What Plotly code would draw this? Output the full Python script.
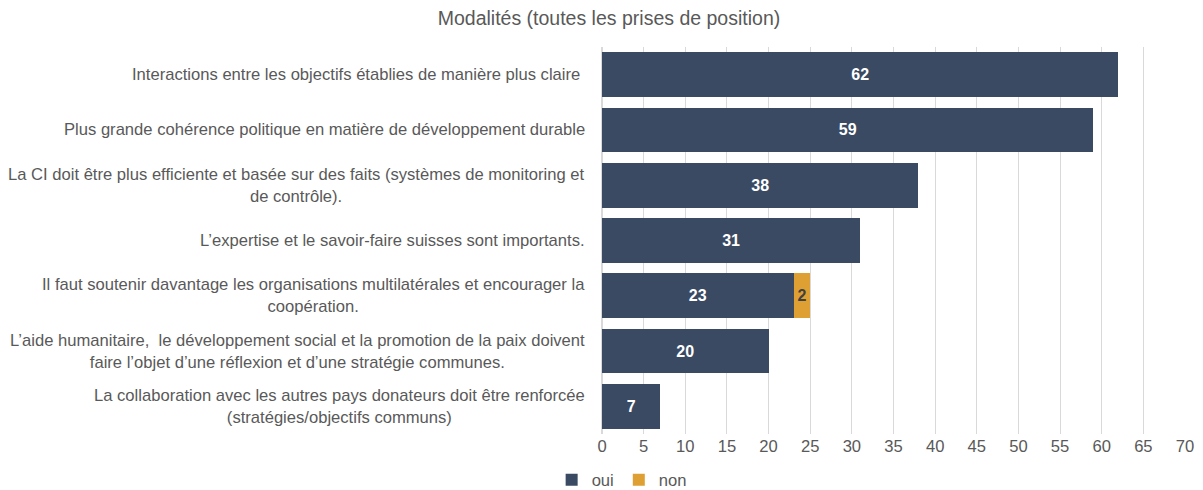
import plotly.graph_objects as go

categories = [
    "Interactions entre les objectifs établies de manière plus claire ",
    "Plus grande cohérence politique en matière de développement durable",
    "La CI doit être plus efficiente et basée sur des faits (systèmes de monitoring et<br>de contrôle).",
    "L’expertise et le savoir-faire suisses sont importants.",
    "Il faut soutenir davantage les organisations multilatérales et encourager la<br>coopération.",
    "L’aide humanitaire,  le développement social et la promotion de la paix doivent<br>faire l’objet d’une réflexion et d’une stratégie communes.",
    "La collaboration avec les autres pays donateurs doit être renforcée<br>(stratégies/objectifs communs)",
]
cat_ids = [f"c{i}" for i in range(len(categories))]
oui = [62, 59, 38, 31, 23, 20, 7]
non = [None, None, None, None, 2, None, None]
x_ticks = list(range(0, 75, 5))

C_OUI = "#3A4A63"
C_NON = "#DEA033"
GREY = "#595959"
FONT = "Liberation Sans, Arial, sans-serif"
FS = 16.6

fig = go.Figure()
fig.add_trace(go.Bar(
    y=cat_ids, x=oui, orientation="h", name="oui",
    marker=dict(color=C_OUI, line=dict(width=0)),
    text=oui, textposition="inside", insidetextanchor="middle",
    textfont=dict(color="white", size=16, family=FONT, weight="bold"),
    textangle=0,
))
fig.add_trace(go.Bar(
    y=cat_ids, x=non, orientation="h", name="non",
    marker=dict(color=C_NON, line=dict(width=0)),
    text=[v if v else "" for v in non], textposition="inside", insidetextanchor="middle",
    textfont=dict(color="#404040", size=16, family=FONT, weight="bold"),
    textangle=0,
))

for cid, lab in zip(cat_ids, categories):
    fig.add_annotation(
        x=0, xref="paper", y=cid, yref="y", xanchor="right", yanchor="middle",
        xshift=-15, text=lab, showarrow=False, align="center",
        font=dict(size=FS, color=GREY, family=FONT),
    )

fig.update_layout(
    width=1187, height=482,
    barmode="stack", bargap=0.19,
    plot_bgcolor="white", paper_bgcolor="white",
    margin=dict(l=594, r=10, t=39, b=56, autoexpand=False),
    title=dict(text="Modalités (toutes les prises de position)", x=0.5063, xref="container",
               xanchor="center", y=0.993, yanchor="top", yref="container",
               font=dict(size=19.5, color=GREY, family=FONT)),
    font=dict(family=FONT, color=GREY, size=FS),
    showlegend=True,
    legend=dict(orientation="h", xref="container", yref="container", x=0.458, y=0.021,
                xanchor="left", yanchor="middle", font=dict(size=FS, color=GREY),
                itemwidth=30, traceorder="normal"),
    uniformtext=dict(minsize=8, mode="show"),
)
fig.update_xaxes(range=[0, 70], tickvals=x_ticks, showgrid=True, gridcolor="#D9D9D9",
                 gridwidth=1, zeroline=True, zerolinecolor="#D9D9D9", showline=False,
                 tickfont=dict(size=FS, color=GREY), ticks="", automargin=False, fixedrange=True)
fig.update_yaxes(categoryorder="array", categoryarray=cat_ids, autorange="reversed",
                 showticklabels=False, showgrid=False, zeroline=False, showline=False, ticks="",
                 automargin=False)

fig.write_html("out.html")
